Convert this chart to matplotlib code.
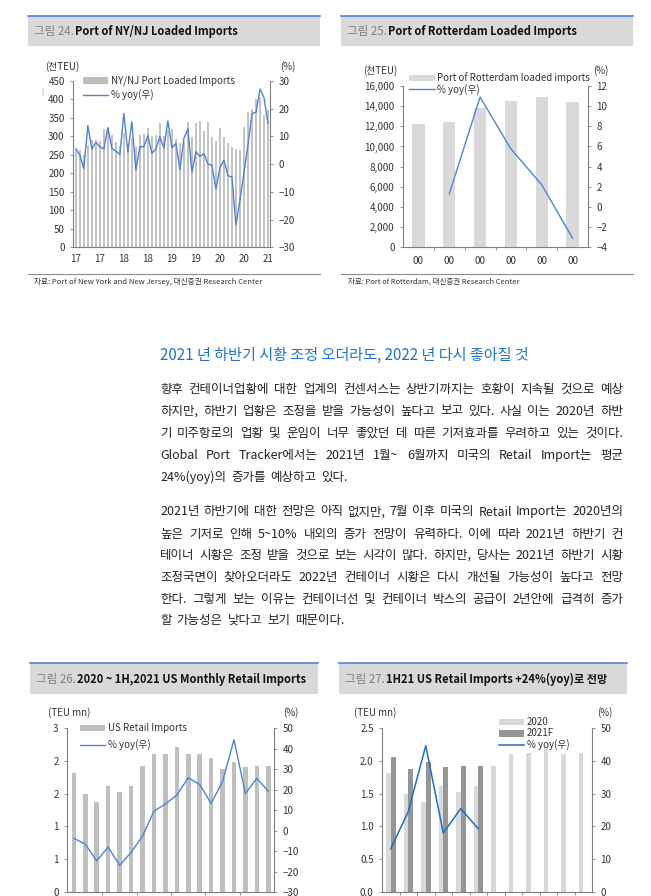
import matplotlib
matplotlib.use("Agg")
import matplotlib.pyplot as plt
import numpy as np

plt.rcParams['font.family'] = ['Noto Sans CJK KR', 'DejaVu Sans']
plt.rcParams['axes.unicode_minus'] = True

# ---------------- data ----------------
# Chart 24: Port of NY/NJ loaded imports, Jan 2017 - Jan 2021 (thousand TEU) and yoy (%)
nynj_imports = [263, 262, 250, 277, 291, 290, 288, 320, 324, 303, 286, 275,
                308, 280, 297, 272, 303, 307, 322, 300, 303, 337, 300, 316,
                320, 293, 281, 285, 338, 299, 335, 342, 315, 338, 299, 287,
                322, 299, 281, 272, 265, 263, 326, 365, 374, 401, 407, 358, 372]
nynj_yoy = [5.5, 3.3, -1.6, 13.9, 5.5, 7.9, 6.2, 5.5, 13.2, 5.7, 4.7, 3.5,
            18.3, 4.3, 15.3, -2.2, 6.3, 6.3, 10.3, 3.9, 5.5, 9.9, 5.7, 15.6,
            5.9, 7.5, -2.0, 9.3, 12.7, -3.0, 4.5, 2.8, 3.8, 0.0, -0.3, -9.0,
            -1.3, 1.5, -4.2, -4.6, -22.0, -13.0, -3.0, 7.0, 18.3, 18.7, 27.1, 24.0, 14.7]
nynj_xlabels = ['17', '17', '18', '18', '19', '19', '20', '20', '21']

# Chart 25: Port of Rotterdam loaded imports (thousand TEU) and yoy (%)
rot_labels = ['00', '00', '00', '00', '00', '00']
rot_imports = [12230, 12400, 13790, 14540, 14880, 14380]
rot_yoy = [None, 1.3, 10.9, 5.75, 2.2, -3.1]

# Chart 26: US monthly retail imports Jan 2020 - Jun 2021 (TEU mn) and yoy (%)
us_imports = [1.82, 1.50, 1.37, 1.61, 1.52, 1.61, 1.92, 2.10, 2.11, 2.21, 2.10, 2.11,
              2.05, 1.88, 1.98, 1.90, 1.92, 1.92]
us_yoy = [-3.8, -6.7, -14.8, -8.1, -17.0, -10.7, -2.8, 9.4, 12.9, 17.3, 25.7, 22.5,
          13.2, 23.8, 44.3, 18.1, 25.4, 19.2]
us_left_ticklabels = ['0', '1', '1', '2', '2', '3']

# Chart 27: 2020 vs 2021F monthly (TEU mn) and yoy (%)
r2020 = [1.82, 1.50, 1.37, 1.61, 1.53, 1.61, 1.92, 2.10, 2.12, 2.21, 2.10, 2.12]
r2021f = [2.06, 1.88, 1.98, 1.90, 1.92, 1.92]
r2021_yoy = [13.2, 24.5, 44.6, 18.0, 25.4, 19.3]

# ---------------- layout helpers ----------------
W, H = 651, 896
fig = plt.figure(figsize=(W / 100, H / 100), dpi=100)
fig.patch.set_facecolor('white')

TXT = '#333333'
SPINE = '#7f7f7f'
LINE_BLUE = '#4d84d6'


def px_axes(x0, y0, x1, y1):
    return fig.add_axes([x0 / W, 1 - y1 / H, (x1 - x0) / W, (y1 - y0) / H])


def ftext(x, y, s, **kw):
    kw.setdefault('color', TXT)
    kw.setdefault('va', 'center')
    return fig.text(x / W, 1 - y / H, s, **kw)


def hline(x0, x1, y, color, lw):
    fig.add_artist(plt.Line2D([x0 / W, x1 / W], [1 - y / H, 1 - y / H],
                              color=color, lw=lw, transform=fig.transFigure))


def rect(x0, y0, x1, y1, color):
    fig.add_artist(plt.Rectangle((x0 / W, 1 - y1 / H), (x1 - x0) / W, (y1 - y0) / H,
                                 color=color, transform=fig.transFigure, lw=0))


renderer = fig.canvas.get_renderer()


def header(x0, x1, y0, y1, num, title):
    rect(x0, y0, x1, y1, '#d9d9d9')
    hline(x0, x1, y0, '#4f86d8', 1.2)
    ymid = (y0 + y1) / 2 + 1
    t = ftext(x0 + 6, ymid, num, fontsize=8.3, color='#808080')
    w = t.get_window_extent(renderer).width
    ftext(x0 + 6 + w + 1, ymid, title, fontsize=8.0, color='#111111', fontweight='bold')


def style(ax, ax2):
    for a in (ax, ax2):
        a.spines['top'].set_visible(False)
        for s in a.spines.values():
            s.set_color(SPINE)
            s.set_linewidth(0.8)
        a.tick_params(labelsize=7, colors=SPINE, labelcolor=TXT, length=2.5, width=0.6)
        a.set_facecolor('none')
    ax.spines['right'].set_visible(False)
    ax2.spines['left'].set_visible(False)
    ax2.spines['bottom'].set_visible(False)


def minus(v):
    return ('\u2212' + str(abs(v))) if v < 0 else str(v)


# ---------------- Chart 24 ----------------
header(28, 320, 16, 46, '그림 24.', 'Port of NY/NJ Loaded Imports')
ax = px_axes(73, 81, 270, 247.3)
ax2 = ax.twinx()
x = np.arange(len(nynj_imports))
ax.bar(x, nynj_imports, width=0.5, color='#c4c4c4')
ax2.plot(x, nynj_yoy, color=LINE_BLUE, lw=1.0)
ax.set_xlim(-0.7, 48.5)
ax.set_ylim(0, 450)
ax.set_yticks(range(0, 451, 50))
ax2.set_ylim(-30, 30)
ax2.set_yticks(range(-30, 31, 10))
ax2.set_yticklabels([minus(v) for v in range(-30, 31, 10)])
ax.set_xticks(np.arange(0, 49, 6))
ax.set_xticklabels(nynj_xlabels)
style(ax, ax2)
ax.tick_params(axis='x', length=0, pad=5)
ftext(45, 67, '(천TEU)', fontsize=7)
ftext(280, 67, '(%)', fontsize=7)
ftext(41, 92, '|', fontsize=5, color='#888888')
rect(83, 77.5, 108, 84, '#bdbdbd')
ftext(111, 80.5, 'NY/NJ Port Loaded Imports', fontsize=7)
hline(83, 108, 95, LINE_BLUE, 1.0)
ftext(111, 95, '% yoy(우)', fontsize=7)
hline(28, 320, 274, '#8c8c8c', 0.8)
ftext(34, 281.5, '자료: Port of New York and New Jersey, 대신증권 Research Center',
      fontsize=5.5, color='#333333')

# ---------------- Chart 25 ----------------
header(341, 633, 16, 46, '그림 25.', 'Port of Rotterdam Loaded Imports')
ax = px_axes(403, 86, 588, 247.3)
ax2 = ax.twinx()
x = np.arange(len(rot_imports))
ax.bar(x, rot_imports, width=0.4, color='#d9d9d9')
xs = [i for i, v in enumerate(rot_yoy) if v is not None]
ax2.plot(xs, [rot_yoy[i] for i in xs], color=LINE_BLUE, lw=1.0)
ax.set_xlim(-0.5, 5.5)
ax.set_ylim(0, 16000)
ax.set_yticks(range(0, 16001, 2000))
ax.set_yticklabels([f'{v:,}' for v in range(0, 16001, 2000)])
ax2.set_ylim(-4, 12)
ax2.set_yticks(range(-4, 13, 2))
ax2.set_yticklabels([minus(v) for v in range(-4, 13, 2)])
ax.set_xticks(x)
ax.set_xticklabels(rot_labels)
ax.set_xticks(np.arange(0.5, 5, 1), minor=True)
style(ax, ax2)
ax.tick_params(axis='x', which='major', length=0, pad=6)
ax.tick_params(axis='x', which='minor', length=2.5, width=0.6, colors=SPINE)
ftext(363, 71, '(천TEU)', fontsize=7)
ftext(593, 71, '(%)', fontsize=7)
rect(409, 75, 435, 81, '#d9d9d9')
ftext(437, 78, 'Port of Rotterdam loaded imports', fontsize=7)
hline(409, 435, 89.5, LINE_BLUE, 1.0)
ftext(437, 89.5, '% yoy(우)', fontsize=7)
hline(341, 633, 274, '#8c8c8c', 0.8)
ftext(348, 281.5, '자료: Port of Rotterdam, 대신증권 Research Center', fontsize=5.4)

# ---------------- Text section ----------------
ftext(160, 355, '2021 년 하반기 시황 조정 오더라도, 2022 년 다시 좋아질 것',
      fontsize=10.9, color='#1f74c8', fontweight='medium')

para1 = ['향후 컨테이너업황에 대한 업계의 컨센서스는 상반기까지는 호황이 지속될 것으로 예상',
         '하지만, 하반기 업황은 조정을 받을 가능성이 높다고 보고 있다. 사실 이는 2020년 하반',
         '기 미주항로의 업황 및 운임이 너무 좋았던 데 따른 기저효과를 우려하고 있는 것이다.',
         'Global Port Tracker에서는 2021년 1월~ 6월까지 미국의 Retail Import는 평균',
         '24%(yoy)의 증가를 예상하고 있다.']
para2 = ['2021년 하반기에 대한 전망은 아직 없지만, 7월 이후 미국의 Retail Import는 2020년의',
         '높은 기저로 인해 5~10% 내외의 증가 전망이 유력하다. 이에 따라 2021년 하반기 컨',
         '테이너 시황은 조정 받을 것으로 보는 시각이 많다. 하지만, 당사는 2021년 하반기 시황',
         '조정국면이 찾아오더라도 2022년 컨테이너 시황은 다시 개선될 가능성이 높다고 전망',
         '한다. 그렇게 보는 이유는 컨테이너선 및 컨테이너 박스의 공급이 2년안에 급격히 증가',
         '할 가능성은 낮다고 보기 때문이다.']


def justify(lines, ys, x0=160, x1=623, fs=9.0):
    for k, (line, y) in enumerate(zip(lines, ys)):
        words = line.split(' ')
        arts = [ftext(0, y, w, fontsize=fs, color='#222222') for w in words]
        widths = [a.get_window_extent(renderer).width for a in arts]
        last = (k == len(lines) - 1)
        if last or len(words) < 2:
            gap = fs * 100 / 72 * 0.4
        else:
            gap = (x1 - x0 - sum(widths)) / (len(words) - 1)
        xx = x0
        for a, w in zip(arts, widths):
            a.set_x(xx / W)
            xx += w + gap


justify(para1, [389, 411, 433, 455, 477])
justify(para2, [512, 534, 555.5, 577, 599, 620.5])

# ---------------- Chart 26 ----------------
header(30, 318, 663, 694, '그림 26.', '2020 ~ 1H,2021 US Monthly Retail Imports')
ax = px_axes(67, 728, 274, 892)
ax2 = ax.twinx()
x = np.arange(len(us_imports))
ax.bar(x, us_imports, width=0.4, color='#bfbfbf')
ax2.plot(x, us_yoy, color=LINE_BLUE, lw=1.0)
ax.set_xlim(-0.6, 17.5)
ax.set_ylim(0, 2.5)
ax.set_yticks(np.arange(0, 2.51, 0.5))
ax.set_yticklabels(us_left_ticklabels)
ax2.set_ylim(-30, 50)
ax2.set_yticks(range(-30, 51, 10))
ax2.set_yticklabels([minus(v) for v in range(-30, 51, 10)])
ax.set_xticks(np.arange(2.5, 17, 3))
ax.set_xticklabels([])
style(ax, ax2)
ftext(48, 713, '(TEU mn)', fontsize=7)
ftext(283, 713, '(%)', fontsize=7)
rect(80, 724.5, 105, 731, '#bfbfbf')
ftext(108, 728, 'US Retail Imports', fontsize=7)
hline(80, 105, 744.5, LINE_BLUE, 1.0)
ftext(108, 744.5, '% yoy(우)', fontsize=7)

# ---------------- Chart 27 ----------------
header(339, 627, 663, 694, '그림 27.', '1H21 US Retail Imports +24%(yoy)로 전망')
ax = px_axes(382, 728, 592, 892)
ax2 = ax.twinx()
x = np.arange(len(r2020))
ax.bar(x - 0.13, r2020, width=0.28, color='#d9d9d9')
x21 = np.arange(len(r2021f))
ax.bar(x21 + 0.15, r2021f, width=0.28, color='#969696')
ax2.plot(x21, r2021_yoy, color='#1f6fc5', lw=1.1)
ax.set_xlim(-0.5, 11.5)
ax.set_ylim(0, 2.5)
ax.set_yticks(np.arange(0, 2.51, 0.5))
ax.set_yticklabels([f'{v:.1f}' for v in np.arange(0, 2.51, 0.5)])
ax2.set_ylim(0, 50)
ax2.set_yticks(range(0, 51, 10))
ax.set_xticks(np.arange(0.5, 11, 1))
ax.set_xticklabels([])
style(ax, ax2)
ftext(354, 713, '(TEU mn)', fontsize=7)
ftext(597, 713, '(%)', fontsize=7)
rect(499, 718.5, 524, 725, '#d9d9d9')
ftext(527, 721.5, '2020', fontsize=7)
rect(499, 730, 524, 736.5, '#969696')
ftext(527, 733, '2021F', fontsize=7)
hline(499, 524, 745, '#1f6fc5', 1.1)
ftext(527, 745, '% yoy(우)', fontsize=7)

fig.savefig('out.png', dpi=100, facecolor='white')
